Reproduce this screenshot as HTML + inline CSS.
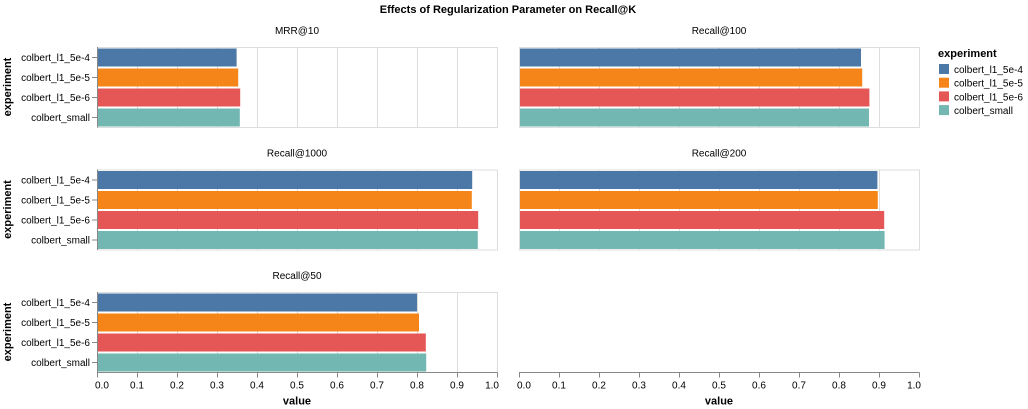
<!DOCTYPE html>
<html><head><meta charset="utf-8"><style>body{margin:0;background:#fff}svg{display:block;font-family:"Liberation Sans",Arial,sans-serif}</style></head>
<body>
<svg id="chart" width="1028" height="409" xmlns="http://www.w3.org/2000/svg"></svg>
<script>
const experiments = ["colbert_l1_5e-4","colbert_l1_5e-5","colbert_l1_5e-6","colbert_small"];
const colors = ["#4c78a8","#f58518","#e45756","#72b7b2"];
const facets = ["MRR@10","Recall@100","Recall@1000","Recall@200","Recall@50"];
const mrr10 = [0.349,0.353,0.358,0.357];
const recall100 = [0.855,0.858,0.876,0.875];
const recall1000 = [0.938,0.937,0.953,0.952];
const recall200 = [0.896,0.897,0.913,0.914];
const recall50 = [0.800,0.805,0.822,0.823];
const seriesByFacet = [mrr10,recall100,recall1000,recall200,recall50];
const ticks = [0,0.1,0.2,0.3,0.4,0.5,0.6,0.7,0.8,0.9,1.0];

const svg = document.getElementById('chart');
const NS = "http://www.w3.org/2000/svg";
function mk(tag, attrs, parent, text){const e=document.createElementNS(NS,tag);for(const k in attrs)e.setAttribute(k,attrs[k]);if(text!==undefined)e.textContent=text;(parent||svg).appendChild(e);return e;}
const W=400,H=80, colX=[97,519], rowY=[47,169.5,292];
const band=H/experiments.length, pad=0.1;

let t=mk('text',{x:508,y:13,'text-anchor':'middle','font-size':11,'font-weight':'bold',fill:'#000'},svg,"Effects of Regularization Parameter on Recall@K");



facets.forEach((f,i)=>{
  const x0=colX[i%2], y0=rowY[Math.floor(i/2)];
  const xs=v=>x0+v*W;
  const g=mk('g',{});
  
  
  const ft=mk('text',{x:x0+W/2,y:y0-13,'text-anchor':'middle','font-size':10,fill:'#000'},g,f);
  
  
  ticks.forEach(v=>{ if(v>0&&v<1) mk('line',{x1:xs(v)+0.5,x2:xs(v)+0.5,y1:y0,y2:y0+H,stroke:'#ddd'},g); });
  const vals=seriesByFacet[i];
  vals.forEach((v,j)=>{
    const r=mk('rect',{x:x0,y:y0+j*band+band*pad/2+0.5,width:xs(v)-x0,height:band*(1-pad),fill:colors[j]},g);
    
    
  });
  mk('rect',{x:x0+0.5,y:y0+0.5,width:W,height:H,fill:'none',stroke:'#ddd'},g);
  if(i%2===0){
    mk('line',{x1:x0+0.5,x2:x0+0.5,y1:y0,y2:y0+H+0.5,stroke:'#888'},g);
    experiments.forEach((e,j)=>{
      const cy=y0+j*band+band/2+0.5;
      mk('line',{x1:x0-5,x2:x0,y1:cy,y2:cy,stroke:'#888'},g);
      const lt=mk('text',{x:x0-7,y:cy+3.5,'text-anchor':'end','font-size':10,fill:'#000'},g,e);
      
      
    });
    const yt=mk('text',{transform:`translate(${x0-86},${y0+H/2}) rotate(-90)`,'text-anchor':'middle','font-size':11,'font-weight':'bold',fill:'#000'},g,"experiment");
    
    
  }
});

[0,1].forEach(c=>{
  const x0=colX[c];
  const xs=v=>x0+v*W;
  const g=mk('g',{});
  
  
  const ay=rowY[2]+H+0.5;
  mk('line',{x1:x0,x2:x0+W+0.5,y1:ay,y2:ay,stroke:'#888'},g);
  ticks.forEach(v=>{
    mk('line',{x1:xs(v)+0.5,x2:xs(v)+0.5,y1:ay,y2:ay+5,stroke:'#888'},g);
    const tl=mk('text',{x:xs(v)+(v===0?-2:v===1?2:0),y:ay+16,'text-anchor':v===0?'start':v===1?'end':'middle','font-size':10,fill:'#000'},g,v.toFixed(1));
    
    
  });
  const xt=mk('text',{x:x0+W/2,y:ay+32,'text-anchor':'middle','font-size':11,'font-weight':'bold',fill:'#000'},g,"value");
  
  
});

const lg=mk('g',{});


const ltt=mk('text',{x:938,y:57,'font-size':11,'font-weight':'bold',fill:'#000'},lg,"experiment");


experiments.forEach((e,j)=>{
  const y=64+j*13.7;
  const sw=mk('rect',{x:939,y:y,width:10,height:10,fill:colors[j]},lg);
  
  
  const lt=mk('text',{x:954,y:y+9,'font-size':10,fill:'#000'},lg,e);
  
  
});
</script>
</body></html>
